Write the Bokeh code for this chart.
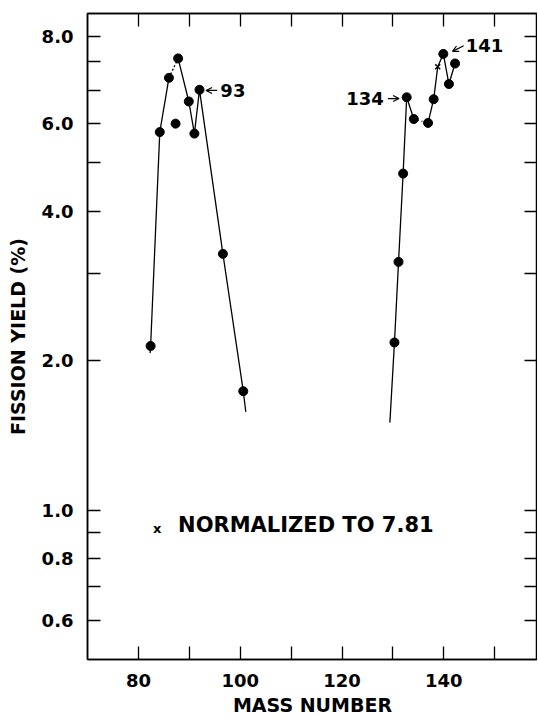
from bokeh.plotting import figure
from bokeh.models import (FixedTicker, LogAxis, LinearAxis, Label, Arrow, OpenHead,
                          CustomJSTickFormatter)
from bokeh.embed import file_html
from bokeh.resources import INLINE

# ---- data ----
left_mass = [82.4, 84.2, 86.0, 87.3, 87.8, 89.9, 91.0, 92.0, 96.6, 100.6]
left_yield = [2.14, 5.77, 7.42, 6.00, 8.12, 6.65, 5.73, 7.02, 3.28, 1.735]

right_mass = [130.3, 131.1, 132.0, 132.7, 134.1, 136.9, 138.0, 139.9, 141.0, 142.2]
right_yield = [2.175, 3.16, 4.76, 6.78, 6.13, 6.02, 6.72, 8.29, 7.21, 7.93]

norm_mass = [138.8]
norm_yield = [7.81]

# curve tails drawn beyond the end points
left_tail_start = (82.3, 2.07)
left_tail_end = (101.1, 1.576)
right_tail_start = (129.4, 1.50)

x_ticks = [80, 100, 120, 140]
x_minor = [90, 110, 130, 150]
y_ticks = [0.6, 0.8, 1.0, 2.0, 4.0, 6.0, 9.0]
y_tick_labels = ["0.6", "0.8", "1.0", "2.0", "4.0", "6.0", "8.0"]
y_minor = [0.7, 0.9, 3.0, 5.0, 7.0, 8.0]

FONT = "DejaVu Sans"

p = figure(width=537, height=720, x_range=(70, 158.4), y_range=(0.5, 10),
           y_axis_type="log", output_backend="svg", toolbar_location=None,
           min_border_left=87, min_border_right=0, min_border_top=13, min_border_bottom=61)
p.xgrid.visible = False
p.ygrid.visible = False
p.outline_line_color = "black"
p.outline_line_width = 1.5
p.background_fill_color = "white"
p.border_fill_color = "white"

def style_axis(ax, ticks, minor, labels=True):
    ax.ticker = FixedTicker(ticks=ticks, minor_ticks=minor)
    ax.major_tick_in = 13
    ax.major_tick_out = 0
    ax.minor_tick_in = 13
    ax.minor_tick_out = 0
    ax.major_tick_line_color = "black"
    ax.minor_tick_line_color = "black"
    ax.major_tick_line_width = 1.3
    ax.minor_tick_line_width = 1.3
    ax.axis_line_color = "black"
    ax.axis_line_width = 1.5
    if labels:
        ax.major_label_text_font = FONT
        ax.major_label_text_font_style = "bold"
        ax.major_label_text_font_size = "18px"
        ax.major_label_text_color = "black"
        ax.axis_label_text_font = FONT
        ax.axis_label_text_font_style = "bold"
        ax.axis_label_text_font_size = "19px"
        ax.axis_label_text_color = "black"
    else:
        ax.formatter = CustomJSTickFormatter(code="return ''")
        ax.major_label_standoff = 0

# left axis
ya = p.yaxis[0]
style_axis(ya, y_ticks, y_minor)
ya.major_label_overrides = {t: l for t, l in zip(y_ticks, y_tick_labels)}
ya.major_label_standoff = 14
ya.axis_label = "FISSION YIELD (%)"
ya.axis_label_standoff = 10

# bottom axis
xa = p.xaxis[0]
style_axis(xa, x_ticks, x_minor)
xa.major_label_standoff = 14
xa.axis_label = "MASS NUMBER"
xa.axis_label_standoff = 4

# right and top axes (ticks only)
ra = LogAxis()
style_axis(ra, y_ticks, y_minor, labels=False)
p.add_layout(ra, "right")
ta = LinearAxis()
style_axis(ta, x_ticks, x_minor, labels=False)
p.add_layout(ta, "above")

# curves
lc1_x = [left_tail_start[0]] + left_mass[0:3]
lc1_y = [left_tail_start[1]] + left_yield[0:3]
p.line(lc1_x, lc1_y, line_color="black", line_width=1.3)
p.line([left_mass[2], left_mass[4]], [left_yield[2], left_yield[4]],
       line_color="black", line_width=1.3, line_dash="2 2")
lc2_x = left_mass[4:] + [left_tail_end[0]]
lc2_y = left_yield[4:] + [left_tail_end[1]]
p.line(lc2_x, lc2_y, line_color="black", line_width=1.3)

rc1_x = [right_tail_start[0]] + right_mass[0:5]
rc1_y = [right_tail_start[1]] + right_yield[0:5]
p.line(rc1_x, rc1_y, line_color="black", line_width=1.3)
p.line(right_mass[4:6], right_yield[4:6], line_color="black", line_width=1.3, line_dash="1 3")
rc2_x = right_mass[5:7] + norm_mass + right_mass[7:]
rc2_y = right_yield[5:7] + norm_yield + right_yield[7:]
p.line(rc2_x, rc2_y, line_color="black", line_width=1.3)

# points
p.scatter(left_mass, left_yield, size=9, color="black")
p.scatter(right_mass, right_yield, size=9, color="black")
p.scatter(norm_mass, norm_yield, marker="x", size=7, line_color="black", line_width=1.5)

# annotations
def lab(x, y, t, size="18px", align="left"):
    p.add_layout(Label(x=x, y=y, text=t, text_font=FONT, text_font_style="bold",
                       text_font_size=size, text_align=align, text_baseline="middle",
                       text_color="black"))

def arr(x0, y0, x1, y1):
    p.add_layout(Arrow(end=OpenHead(size=6, line_width=1.2, line_color="black"),
                       x_start=x0, y_start=y0, x_end=x1, y_end=y1,
                       line_width=1.2, line_color="black"))

lab(96.1, 7.0, "93")
arr(95.5, 7.0, 93.3, 7.0)
lab(128.2, 6.74, "134", align="right")
arr(129.0, 6.74, 131.2, 6.74)
lab(144.3, 8.61, "141")
arr(143.9, 8.61, 141.7, 8.39)
lab(83.7, 0.92, "x", size="13px", align="center")
lab(87.8, 0.933, "NORMALIZED TO 7.81", size="21px")

open("out.html", "w").write(file_html(p, INLINE))
